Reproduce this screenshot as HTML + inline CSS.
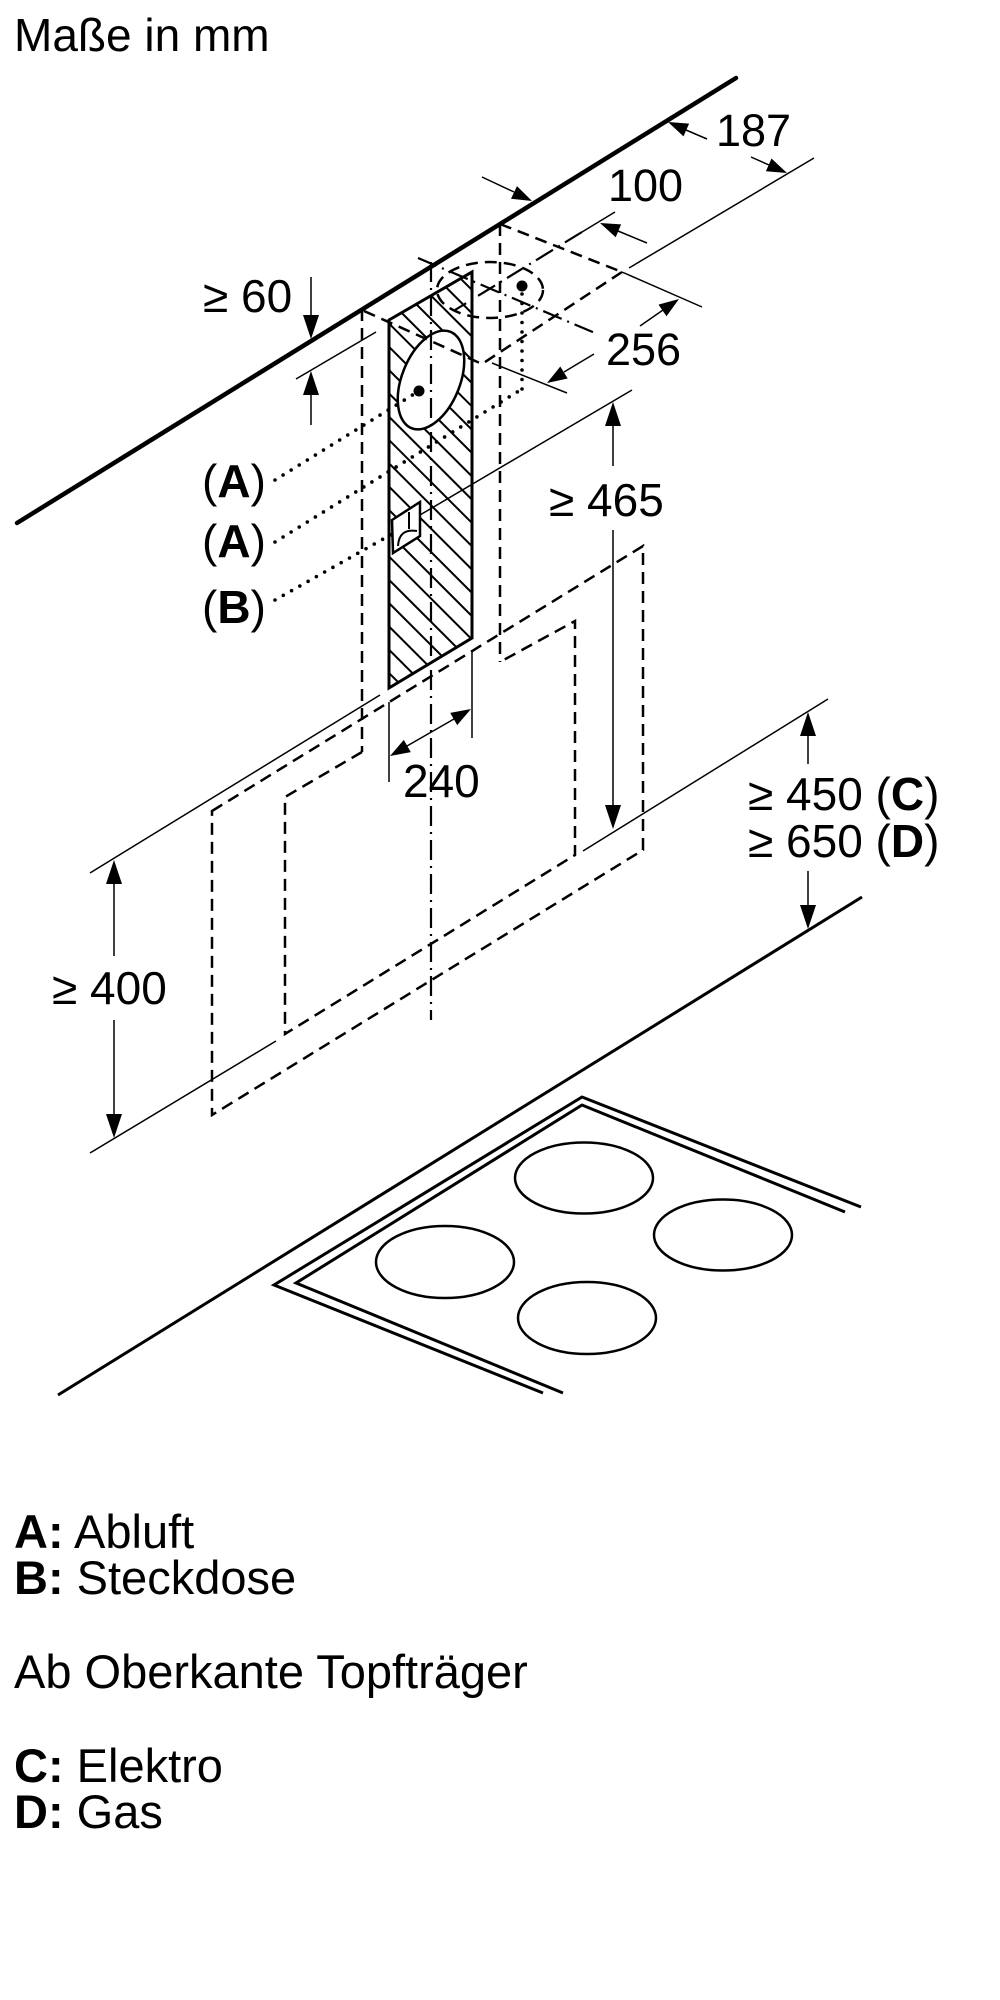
<!DOCTYPE html>
<html>
<head>
<meta charset="utf-8">
<style>
  html, body { margin:0; padding:0; background:#fff; }
  body { width:1000px; height:2000px; overflow:hidden; }
  svg { display:block; }
  text { font-family:"Liberation Sans", Arial, sans-serif; fill:#000; }
  .d  { stroke:#000; stroke-width:2.5; fill:none; stroke-dasharray:12 7; }
  .t  { stroke:#000; stroke-width:1.5; fill:none; }
  .dd { stroke:#000; stroke-width:2.2; fill:none; stroke-dasharray:20 6 2 6; }
  .dt { stroke:#000; stroke-width:3.6; fill:none; stroke-dasharray:0 9.5; stroke-linecap:round; }
  .k  { stroke:#000; fill:none; }
  .ah { fill:#000; stroke:none; }
</style>
</head>
<body>
<svg width="1000" height="2000" viewBox="0 0 1000 2000" xmlns="http://www.w3.org/2000/svg">
  <defs>
    <clipPath id="pc"><polygon points="389,320 472,272 472,638 389,688"/></clipPath>
  </defs>

  <!-- Title -->
  <text x="14" y="51" font-size="46">Maße in mm</text>

  <!-- Wall / ceiling line -->
  <line x1="17" y1="523" x2="736" y2="78" class="k" stroke-width="4.5" stroke-linecap="round"/>

  <!-- Hatched panel -->
  <g clip-path="url(#pc)">
    <path class="k" stroke-width="2" d="
      M380,664 l100,100 M380,640.7 l100,100 M380,617.4 l100,100 M380,594.1 l100,100
      M380,570.8 l100,100 M380,547.5 l100,100 M380,524.2 l100,100 M380,500.9 l100,100
      M380,477.6 l100,100 M380,454.3 l100,100 M380,431 l100,100 M380,407.7 l100,100
      M380,384.4 l100,100 M380,361.1 l100,100 M380,337.8 l100,100 M380,314.5 l100,100
      M380,291.2 l100,100 M380,267.9 l100,100 M380,244.6 l100,100 M380,221.3 l100,100
      M380,198 l100,100"/>
  </g>
  <polygon points="389,320 472,272 472,638 389,688" class="k" stroke-width="3"/>

  <!-- wall duct ellipse -->
  <ellipse cx="431" cy="380" rx="29" ry="52" transform="rotate(22 431 380)" fill="#fff" stroke="#000" stroke-width="2.5"/>
  <circle cx="419" cy="391" r="5.5" fill="#000"/>

  <!-- socket -->
  <polygon points="392,520 420,502 420,536 393,553" fill="#fff" stroke="#000" stroke-width="2.5"/>
  <path d="M398,546 Q399,528 417,531" class="k" stroke-width="2"/>
  <path d="M409,512 L409,529" class="k" stroke-width="2"/>

  <!-- panel center axis -->
  <line x1="431" y1="262" x2="431" y2="1020" class="dd"/>

  <!-- Chimney dashed -->
  <line x1="362" y1="309" x2="362" y2="752" class="d"/>
  <line x1="500" y1="224" x2="500" y2="662" class="d"/>
  <!-- ceiling rhombus -->
  <line x1="364" y1="311" x2="482" y2="364" class="d"/>
  <line x1="500" y1="224" x2="622" y2="272" class="d"/>
  <line x1="622" y1="272" x2="482" y2="364" class="d"/>
  <!-- dashed duct circle on ceiling -->
  <ellipse cx="490" cy="290" rx="53" ry="28" class="d" stroke-dasharray="10 6"/>
  <circle cx="522" cy="286" r="5.5" fill="#000"/>
  <!-- ceiling axes -->
  <line x1="582" y1="232" x2="455" y2="310" class="dd"/>
  <line x1="418" y1="258" x2="595" y2="333" class="dd"/>

  <!-- Inner canopy -->
  <polyline points="362,752 285,797 285,1034 575,855 575,621 500,662" class="d"/>
  <!-- Outer canopy -->
  <polygon points="212,811 643,546 643,850 212,1115" class="d"/>

  <!-- Leaders (dotted) -->
  <line x1="275" y1="480" x2="419" y2="391" class="dt"/>
  <line x1="275" y1="542" x2="522" y2="389" class="dt"/>
  <line x1="522" y1="389" x2="522" y2="292" class="dt"/>
  <line x1="275" y1="600" x2="392" y2="534" class="dt"/>

  <text x="202" y="497" font-size="46">(<tspan font-weight="bold">A</tspan>)</text>
  <text x="202" y="557" font-size="46">(<tspan font-weight="bold">A</tspan>)</text>
  <text x="202" y="623" font-size="46">(<tspan font-weight="bold">B</tspan>)</text>

  <!-- ≥ 60 -->
  <text x="203" y="312" font-size="46">≥ 60</text>
  <line x1="311" y1="277" x2="311" y2="316" class="t"/>
  <polygon class="ah" points="311,339 303,315 319,315"/>
  <line x1="296" y1="379" x2="376" y2="332" class="t"/>
  <line x1="311" y1="394" x2="311" y2="425" class="t"/>
  <polygon class="ah" points="311,371 303,395 319,395"/>

  <!-- 187 -->
  <text x="716" y="146" font-size="45">187</text>
  <line x1="707" y1="139" x2="686" y2="130" class="t"/>
  <polygon class="ah" points="668,122 689.1,123.6 683.5,136.4"/>
  <line x1="629" y1="268" x2="814" y2="158" class="t"/>
  <line x1="751" y1="157" x2="769" y2="165" class="t"/>
  <polygon class="ah" points="787,173 765.9,171.3 771.5,158.5"/>

  <!-- 100 -->
  <text x="608" y="201" font-size="45">100</text>
  <line x1="482" y1="177" x2="514" y2="192" class="t"/>
  <polygon class="ah" points="532,201 511,198.7 517,186.1"/>
  <line x1="582" y1="232" x2="615" y2="212" class="t"/>
  <line x1="647" y1="243" x2="618" y2="231" class="t"/>
  <polygon class="ah" points="600,223 621.1,224.4 615.7,237.3"/>

  <!-- 256 -->
  <text x="606" y="365" font-size="45">256</text>
  <line x1="622" y1="272" x2="702" y2="307" class="t"/>
  <line x1="640" y1="326" x2="663" y2="310" class="t"/>
  <polygon class="ah" points="679,299 666.5,316.2 658.5,304.6"/>
  <line x1="492" y1="363" x2="567" y2="393" class="t"/>
  <line x1="594" y1="354" x2="564" y2="372" class="t"/>
  <polygon class="ah" points="547,383 560.3,366.5 567.7,378.5"/>

  <!-- ≥ 465 -->
  <line x1="420" y1="515" x2="632" y2="390" class="t"/>
  <text x="549" y="516" font-size="46">≥ 465</text>
  <line x1="613" y1="425" x2="613" y2="466" class="t"/>
  <polygon class="ah" points="613,402 605,426 621,426"/>
  <line x1="613" y1="530" x2="613" y2="806" class="t"/>
  <polygon class="ah" points="613,829 605,805 621,805"/>
  <line x1="583" y1="851" x2="828" y2="699" class="t"/>

  <!-- 240 -->
  <line x1="389" y1="702" x2="389" y2="782" class="t"/>
  <line x1="472" y1="650" x2="472" y2="738" class="t"/>
  <line x1="407" y1="746" x2="454" y2="719" class="t"/>
  <polygon class="ah" points="390,756 403.8,739.9 410.8,752.1"/>
  <polygon class="ah" points="471,709 450.2,712.9 457.2,725.1"/>
  <text x="403" y="797" font-size="46">240</text>

  <!-- ≥ 450 / 650 -->
  <line x1="808" y1="735" x2="808" y2="764" class="t"/>
  <polygon class="ah" points="808,712 800,736 816,736"/>
  <text x="748" y="810" font-size="46">≥ 450 (<tspan font-weight="bold">C</tspan>)</text>
  <text x="748" y="857" font-size="46">≥ 650 (<tspan font-weight="bold">D</tspan>)</text>
  <line x1="808" y1="871" x2="808" y2="906" class="t"/>
  <polygon class="ah" points="808,929 800,905 816,905"/>

  <!-- ≥ 400 -->
  <line x1="90" y1="873" x2="380" y2="695" class="t"/>
  <line x1="90" y1="1153" x2="276" y2="1041" class="t"/>
  <line x1="114" y1="883" x2="114" y2="956" class="t"/>
  <polygon class="ah" points="114,860 106,884 122,884"/>
  <text x="52" y="1004" font-size="46">≥ 400</text>
  <line x1="114" y1="1020" x2="114" y2="1115" class="t"/>
  <polygon class="ah" points="114,1138 106,1114 122,1114"/>

  <!-- Countertop -->
  <line x1="58" y1="1395" x2="862" y2="897" class="k" stroke-width="3"/>

  <!-- Cooktop -->
  <polyline points="543,1393 274,1285 582,1097 861,1207" class="k" stroke-width="3"/>
  <polyline points="563,1393 296,1283 582,1105 845,1212" class="k" stroke-width="3"/>
  <ellipse cx="584" cy="1178" rx="69" ry="35.5" class="k" stroke-width="2.5"/>
  <ellipse cx="723" cy="1235" rx="69" ry="35.5" class="k" stroke-width="2.5"/>
  <ellipse cx="445" cy="1262" rx="69" ry="36" class="k" stroke-width="2.5"/>
  <ellipse cx="587" cy="1318" rx="69" ry="36" class="k" stroke-width="2.5"/>

  <!-- Legend -->
  <text x="14" y="1548" font-size="47"><tspan font-weight="bold">A:</tspan> Abluft</text>
  <text x="14" y="1594" font-size="47"><tspan font-weight="bold">B:</tspan> Steckdose</text>
  <text x="14" y="1688" font-size="47">Ab Oberkante Topfträger</text>
  <text x="14" y="1782" font-size="47"><tspan font-weight="bold">C:</tspan> Elektro</text>
  <text x="14" y="1828" font-size="47"><tspan font-weight="bold">D:</tspan> Gas</text>
</svg>
</body>
</html>
